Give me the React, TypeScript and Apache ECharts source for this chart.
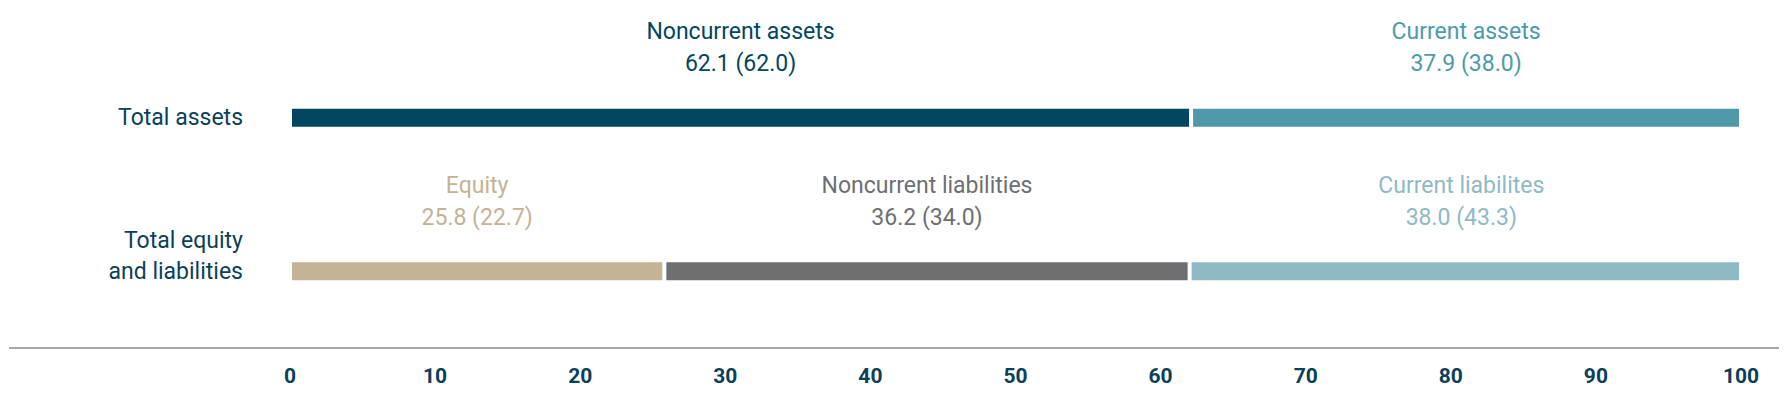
import React, { useEffect, useRef } from "react";
import * as echarts from "echarts";

const categories = ["Total assets", "Total equity\nand liabilities"];
const segmentNames = [
  "Noncurrent assets",
  "Current assets",
  "Equity",
  "Noncurrent liabilities",
  "Current liabilites",
];
const segmentRows = [0, 0, 1, 1, 1];
const currentValues = [62.1, 37.9, 25.8, 36.2, 38.0];
const priorValues = [62.0, 38.0, 22.7, 34.0, 43.3];
const segmentColors = ["#03465F", "#4E9AA9", "#C4B394", "#6E6F73", "#8FB9C5"];
const xTicks = [0, 10, 20, 30, 40, 50, 60, 70, 80, 90, 100];

const TEXT_DARK = "#0B3F5A";
const FONT = "Roboto, 'Open Sans', sans-serif";

export default function App() {
  const ref = useRef<HTMLDivElement>(null);

  useEffect(() => {
    document.body.style.margin = "0";
    if (!ref.current) return;
    const chart = echarts.init(ref.current, undefined, { renderer: "svg" });

    const series = segmentNames.map((name, i) => {
      const data = categories.map((_, r) => (r === segmentRows[i] ? currentValues[i] : "-"));
      return {
        name,
        type: "bar",
        stack: "total",
        barWidth: 22,
        data,
        itemStyle: { color: segmentColors[i], borderColor: "#ffffff", borderWidth: 2 },
        label: {
          show: true,
          position: "top",
          distance: 27,
          offset: i === 4 ? [-4, 0] : [0, 0],
          formatter: () =>
            `${name}\n${currentValues[i].toFixed(1)} (${priorValues[i].toFixed(1)})`,
          color: segmentColors[i],
          fontFamily: FONT,
          fontSize: 23,
          lineHeight: 32,
          align: "center",
        },
      };
    });

    chart.setOption({
      animation: false,
      textStyle: { fontFamily: FONT },
      grid: { left: 290, right: 49, top: 41, bottom: 52, containLabel: false },
      xAxis: {
        type: "value",
        min: 0,
        max: 100,
        interval: 10,
        position: "bottom",
        axisLine: { show: false },
        axisTick: { show: false },
        splitLine: { show: false },
        axisLabel: {
          color: TEXT_DARK,
          fontWeight: "bold",
          fontSize: 21,
          fontFamily: FONT,
          margin: 17,
          formatter: (v: number) => (xTicks.includes(v) ? String(v) : ""),
        },
      },
      yAxis: {
        type: "category",
        inverse: true,
        data: categories,
        axisLine: { show: false },
        axisTick: { show: false },
        splitLine: { show: false },
        axisLabel: {
          color: TEXT_DARK,
          fontSize: 23,
          fontFamily: FONT,
          lineHeight: 31,
          margin: 47,
          align: "right",
          formatter: (v: string) => (v.includes("\n") ? v + "\n " : v),
        },
      },
      graphic: [
        {
          type: "line",
          shape: { x1: 9, y1: 348, x2: 1779, y2: 348 },
          style: { stroke: "#8A8A8A", lineWidth: 1.5 },
          silent: true,
        },
      ],
      series,
    });

    return () => chart.dispose();
  }, []);

  return <div ref={ref} style={{ width: 1790, height: 400 }} />;
}
